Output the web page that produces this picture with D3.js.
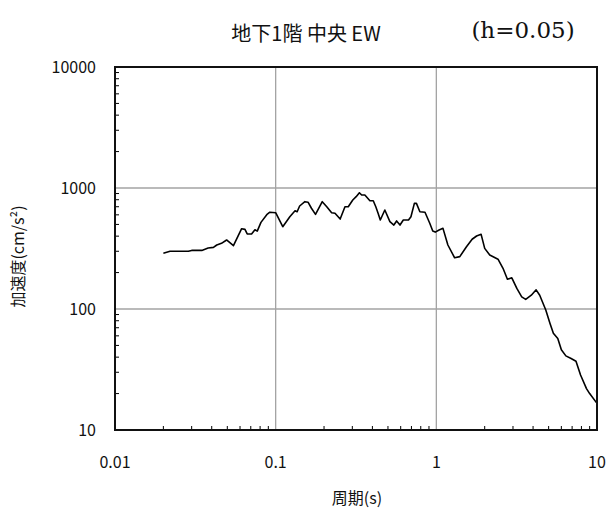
<!DOCTYPE html>
<html>
<head>
<meta charset="utf-8">
<script src="https://cdn.jsdelivr.net/npm/d3@7"></script>
<style>
  html, body { margin: 0; padding: 0; background: #fff; }
  svg { display: block; }
</style>
</head>
<body>
<svg id="chart" width="609" height="515"></svg>
<script>
// Acceleration response spectrum (damping h=0.05), B1F centre, EW
const periods = [0.020, 0.022, 0.0286, 0.030, 0.0347, 0.038, 0.041, 0.043, 0.046, 0.0495,
  0.0546, 0.0614, 0.0644, 0.0665, 0.0708, 0.0743, 0.0768, 0.081, 0.088, 0.092,
  0.100, 0.1107, 0.1225, 0.132, 0.136, 0.141, 0.152, 0.159, 0.167, 0.177,
  0.195, 0.208, 0.223, 0.234, 0.252, 0.270, 0.283, 0.302, 0.317, 0.332,
  0.343, 0.359, 0.386, 0.405, 0.420, 0.434, 0.448, 0.478, 0.514, 0.544,
  0.566, 0.594, 0.623, 0.671, 0.695, 0.730, 0.752, 0.790, 0.850, 0.910,
  0.950, 0.985, 1.04, 1.10, 1.18, 1.30, 1.40, 1.54, 1.67, 1.78,
  1.90, 2.00, 2.15, 2.42, 2.60, 2.77, 2.95, 3.17, 3.40, 3.60,
  3.90, 4.18, 4.40, 4.80, 5.10, 5.35, 5.70, 6.00, 6.40, 6.90,
  7.40, 7.90, 8.60, 9.00, 10.0];
const accel = [289, 300, 300, 305, 305, 319, 323, 338, 349, 372,
  334, 461, 455, 417, 417, 452, 440, 520, 602, 631,
  625, 479, 579, 649, 636, 710, 771, 763, 680, 606,
  771, 700, 625, 619, 554, 700, 700, 796, 848, 914,
  875, 875, 785, 785, 700, 619, 544, 658, 527, 494,
  534, 494, 544, 544, 579, 747, 747, 636, 631, 511,
  441, 432, 450, 464, 338, 265, 271, 327, 377, 401,
  414, 317, 279, 258, 217, 176, 181, 148, 126, 120,
  130, 144, 130, 98, 76, 63, 57, 46, 41, 39,
  37, 28.5, 22, 20, 16.6];

const xTickValues = [0.01, 0.1, 1, 10];
const xTickLabels = ["0.01", "0.1", "1", "10"];
const yTickValues = [10, 100, 1000, 10000];
const yTickLabels = ["10", "100", "1000", "10000"];

const titleText = "地下1階 中央 EW";
const dampingText = "(h=0.05)";
const xTitle = "周期(s)";
const yTitle = "加速度(cm/s²)";

const svg = d3.select("#chart");
const margin = { left: 115, right: 12, top: 67, bottom: 85 };
const W = 609, H = 515;
const plotW = W - margin.left - margin.right;
const plotH = H - margin.top - margin.bottom;

const x = d3.scaleLog().domain([0.01, 10]).range([margin.left, margin.left + plotW]);
const y = d3.scaleLog().domain([10, 10000]).range([margin.top + plotH, margin.top]);

const font = "'Noto Sans CJK JP', 'Noto Sans', sans-serif";

// Grid lines at the inner decades
const g = svg.append("g");
g.selectAll("line.vgrid").data([0.1, 1]).enter().append("line")
  .attr("x1", d => x(d)).attr("x2", d => x(d))
  .attr("y1", margin.top).attr("y2", margin.top + plotH)
  .attr("stroke", "#a3a3a3").attr("stroke-width", 1.3);
g.selectAll("line.hgrid").data([100, 1000]).enter().append("line")
  .attr("x1", margin.left).attr("x2", margin.left + plotW)
  .attr("y1", d => y(d)).attr("y2", d => y(d))
  .attr("stroke", "#a3a3a3").attr("stroke-width", 1.3);

// Minor ticks pointing inward on the bottom and left axes
const minorX = [];
[0.01, 0.1, 1].forEach(dec => { for (let k = 2; k <= 9; k++) minorX.push(dec * k); });
const minorY = [];
[10, 100, 1000].forEach(dec => { for (let k = 2; k <= 9; k++) minorY.push(dec * k); });

g.selectAll("line.mx").data(minorX).enter().append("line")
  .attr("x1", d => x(d)).attr("x2", d => x(d))
  .attr("y1", margin.top + plotH).attr("y2", margin.top + plotH - 4)
  .attr("stroke", "#000").attr("stroke-width", 1);
g.selectAll("line.my").data(minorY).enter().append("line")
  .attr("x1", margin.left).attr("x2", margin.left + 4)
  .attr("y1", d => y(d)).attr("y2", d => y(d))
  .attr("stroke", "#000").attr("stroke-width", 1);

// Spectrum curve
const line = d3.line().x((d, i) => x(periods[i])).y(d => y(d));
svg.append("path").datum(accel)
  .attr("d", line)
  .attr("fill", "none").attr("stroke", "#000").attr("stroke-width", 1.6)
  .attr("stroke-linejoin", "round");

// Plot frame
svg.append("rect")
  .attr("x", margin.left).attr("y", margin.top)
  .attr("width", plotW).attr("height", plotH)
  .attr("fill", "none").attr("stroke", "#111").attr("stroke-width", 2);

// Tick labels
svg.selectAll("text.xt").data(xTickValues).enter().append("text")
  .attr("x", d => x(d)).attr("y", 468)
  .attr("text-anchor", "middle")
  .attr("font-family", font).attr("font-size", 16).attr("fill", "#111")
  .text((d, i) => xTickLabels[i]);
svg.selectAll("text.yt").data(yTickValues).enter().append("text")
  .attr("x", 96).attr("y", d => y(d) + 6)
  .attr("text-anchor", "end")
  .attr("font-family", font).attr("font-size", 16).attr("fill", "#111")
  .text((d, i) => yTickLabels[i]);

// Titles
svg.append("text")
  .attr("x", 306).attr("y", 41).attr("text-anchor", "middle")
  .attr("font-family", font).attr("font-size", 20).attr("fill", "#111")
  .text(titleText);
svg.append("text")
  .attr("x", 523).attr("y", 38).attr("text-anchor", "middle")
  .attr("font-family", "'DejaVu Serif', 'Liberation Serif', serif").attr("font-size", 23).attr("fill", "#111")
  .text(dampingText);
svg.append("text")
  .attr("x", 357).attr("y", 504).attr("text-anchor", "middle")
  .attr("font-family", font).attr("font-size", 16).attr("fill", "#111")
  .text(xTitle);
svg.append("text")
  .attr("transform", "translate(24," + (margin.top + plotH / 2 + 8) + ") rotate(-90)")
  .attr("text-anchor", "middle")
  .attr("font-family", font).attr("font-size", 16).attr("fill", "#111")
  .text(yTitle);
</script>
</body>
</html>
